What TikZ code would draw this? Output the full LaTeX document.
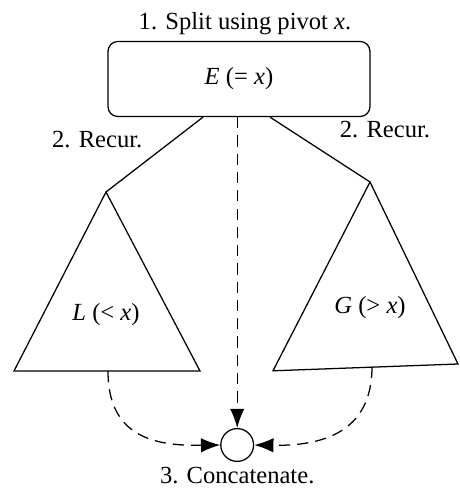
\documentclass[tikz,border=0pt]{standalone}
\usepackage{fontspec}
\setmainfont{Liberation Serif}
\usepackage{tikz}
\usetikzlibrary{arrows.meta, positioning, calc}
\tikzset{
  pivotbox/.style={rectangle, rounded corners=7pt, draw, line width=0.9pt,
                   minimum width=6.55cm, minimum height=1.875cm, align=center, font=\fontsize{17.5}{20}\selectfont},
  lbl/.style     ={align=center, font=\fontsize{17.5}{20}\selectfont, inner sep=1pt},
  joint/.style   ={circle, draw, line width=0.9pt, minimum size=0.82cm, inner sep=0pt},
  tri/.style     ={line width=0.9pt, line join=miter},
  recur/.style   ={line width=0.9pt},
  merge/.style   ={-{Latex[length=4.8mm, width=3.6mm]}, line width=0.9pt, dash pattern=on 8pt off 5pt},
}
\begin{document}
\begin{tikzpicture}
    \useasboundingbox (0,0) rectangle (11.5,12.35);
    \node[pivotbox] (E) at (5.975,10.375) {\textit{E} (= \textit{x})};
    \node[lbl, above=0.1cm of E, xshift=0.15cm] (split) {1. Split using pivot \textit{x}.};
    \coordinate (Ltop) at (2.65,7.55);
    \coordinate (Lbl) at (0.35,3.075);
    \coordinate (Lbr) at (5.0,3.075);
    \coordinate (Rtop) at (9.25,7.8);
    \coordinate (Rbl) at (6.825,3.08);
    \coordinate (Rbr) at (11.45,3.25);
    \draw[tri] (Ltop) -- (Lbl) -- (Lbr) -- cycle;
    \draw[tri] (Rtop) -- (Rbl) -- (Rbr) -- cycle;
    \node[lbl] (L) at (2.65,4.475) {\textit{L} (< \textit{x})};
    \node[lbl] (G) at (9.25,4.65) {\textit{G} (> \textit{x})};
    \draw[recur] ($(E.south)+(-0.9,0)$) -- (Ltop);
    \draw[recur] ($(E.south)+(0.775,0)$) -- (Rtop);
    \node[lbl] (recl) at (2.43,8.85) {2. Recur.};
    \node[lbl] (recr) at (9.625,9.1) {2. Recur.};
    \node[joint] (cat) at (5.93,1.225) {};
    \node[lbl, below=0.08cm of cat] (concat) {3. Concatenate.};
    \coordinate (Lmid) at (2.7,3.075);
    \coordinate (Rmid) at (9.3,3.18);
    \draw[merge] (E.south -| cat.north) -- (cat.north);
    \draw[merge] (Lmid) .. controls (2.7,1.4) and (3.9,1.2) .. (cat.west);
    \draw[merge] (Rmid) .. controls (9.3,1.5) and (8.0,1.2) .. (cat.east);
\end{tikzpicture}
\end{document}
